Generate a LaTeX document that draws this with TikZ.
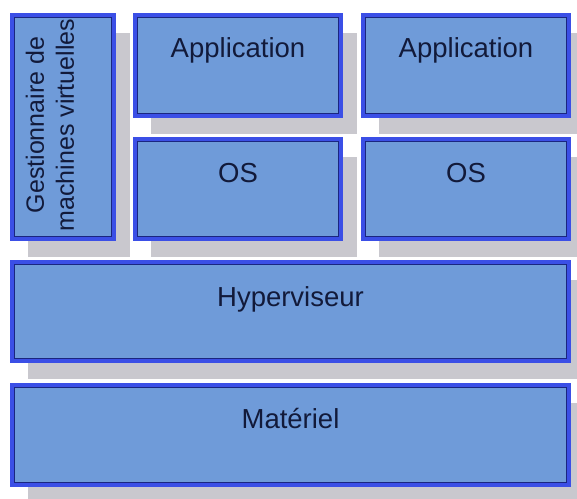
\documentclass[tikz,border=0pt]{standalone}
\usepackage{fontspec}
\setmainfont{Liberation Sans}
\usetikzlibrary{shadows}

\definecolor{boxfill}{HTML}{6F9BD9}
\definecolor{boxline}{HTML}{3B4FE6}
\definecolor{boxinner}{HTML}{1A2680}
\definecolor{shadowgrey}{HTML}{C9C8CE}
\definecolor{txtcol}{HTML}{121A3A}

\begin{document}
\begin{tikzpicture}[
  x=1pt, y=-1pt,
  layer/.style={draw=boxline, fill=boxfill, line width=4pt, outer sep=0pt, inner sep=0pt,
    drop shadow={shadow xshift=16pt, shadow yshift=-18pt, fill=shadowgrey, opacity=1}},
  inner/.style={draw=boxinner, line width=1.1pt},
  lbl/.style={anchor=base, text=txtcol, font=\fontsize{27.5}{30}\selectfont},
]
\useasboundingbox (0,0) rectangle (577,498);

% Boxes (outer sizes minus line width)
\node[layer, minimum width=102pt, minimum height=224pt] (gest) at (63,127)    {};
\node[layer, minimum width=206pt, minimum height=101pt] (app1) at (238,65.5)  {};
\node[layer, minimum width=206pt, minimum height=101pt] (app2) at (466,65.5)  {};
\node[layer, minimum width=206pt, minimum height=100pt] (os1)  at (238,189)   {};
\node[layer, minimum width=206pt, minimum height=100pt] (os2)  at (466,189)   {};
\node[layer, minimum width=557pt, minimum height=99pt]  (hyp)  at (290.5,311.5) {};
\node[layer, minimum width=557pt, minimum height=100pt] (mat)  at (290.5,435) {};

% Dark inner edge of each box
\foreach \n in {gest,app1,app2,os1,os2,hyp,mat}
  \draw[inner] ([shift={(2.6pt,-2.6pt)}]\n.north west) rectangle ([shift={(-2.6pt,2.6pt)}]\n.south east);

% Labels
\node[lbl] (tapp1) at ([yshift=-42pt]app1.north) {Application};
\node[lbl] (tapp2) at ([yshift=-42pt]app2.north) {Application};
\node[lbl] (tos1)  at ([yshift=-43pt]os1.north)  {OS};
\node[lbl] (tos2)  at ([yshift=-43pt]os2.north)  {OS};
\node[lbl] (thyp)  at ([yshift=-44pt]hyp.north)  {Hyperviseur};
\node[lbl] (tmat)  at ([yshift=-43pt]mat.north)  {Matériel};
\node[text=txtcol, rotate=90, align=center, font=\fontsize{25}{30}\selectfont] (tgest) at (50,125)
  {Gestionnaire de\\machines virtuelles};

\end{tikzpicture}
\end{document}
